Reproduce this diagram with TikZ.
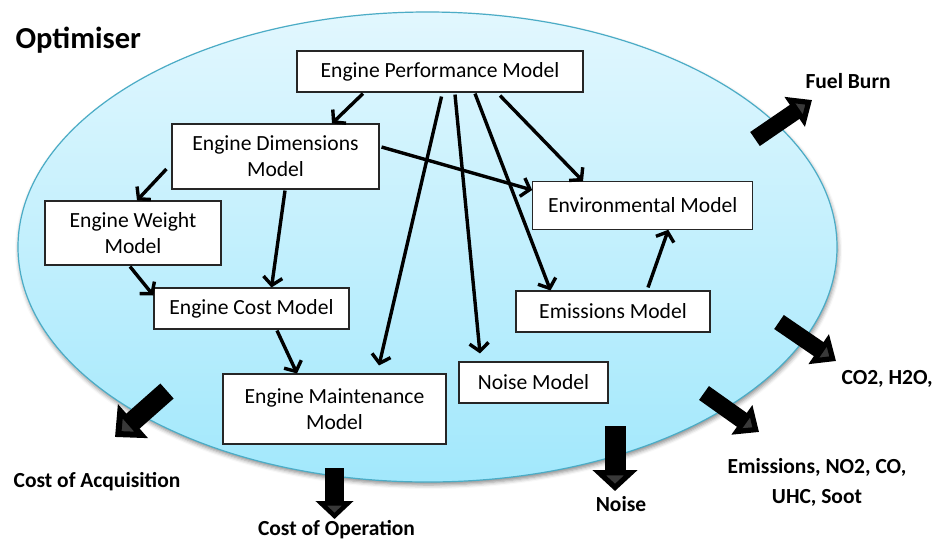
\documentclass[tikz,border=0pt]{standalone}
\usepackage{fontspec}
\setmainfont{Carlito}
\usetikzlibrary{arrows.meta,shadows.blur}

\definecolor{skytop}{HTML}{E2F7FE}
\definecolor{skybottom}{HTML}{A2E8FC}
\definecolor{skyedge}{HTML}{4BACC6}

\begin{document}
\begin{tikzpicture}[x=1pt, y=-1pt,
      link/.style={-{Straight Barb[length=8pt,width=19pt]}, line width=3.4pt},
      output/.style={-{Triangle[length=21pt,width=35pt]}, line width=17pt},
      model/.style={draw=black!85, line width=1.1pt, fill=white, align=center,
                    font=\fontsize{21.6}{26}\selectfont, inner sep=0pt}]
    \tikzstyle{result} = [font=\bfseries\fontsize{21.5}{29.5}\selectfont, align=center]
    \useasboundingbox (0,0) rectangle (933,542);

    % optimiser region
    \path [top color=skytop, bottom color=skybottom, draw=skyedge, line width=1.2pt,
           blur shadow={shadow xshift=1pt, shadow yshift=-3pt, shadow blur radius=4pt, shadow opacity=45}]
      (427.5,247) ellipse [x radius=409.5pt, y radius=235pt];
    \node [font=\bfseries\fontsize{30.5}{33}\selectfont, anchor=base west] (optimiser) at (12,48.3) {Optimiser};

    % models
    \node [model, minimum width=286pt, minimum height=41pt] (perf) at (440,71.5) {Engine Performance Model};
    \node [model, minimum width=207pt, minimum height=65pt] (dim) at (275.5,156.5) {Engine Dimensions\\Model};
    \node [model, minimum width=176pt, minimum height=64pt] (weight) at (133,233) {Engine Weight\\Model};
    \node [model, minimum width=195pt, minimum height=41pt] (cost) at (251.5,308.5) {Engine Cost Model};
    \node [model, minimum width=223pt, minimum height=70pt] (maint) at (334.5,409) {Engine Maintenance\\Model};
    \node [model, minimum width=149pt, minimum height=41pt] (noise) at (533.5,382.5) {Noise Model};
    \node [model, minimum width=194pt, minimum height=41pt] (emis) at (613,311.5) {Emissions Model};
    \node [model, minimum width=220pt, minimum height=47.5pt] (env) at (642.7,205.5) {Environmental Model};

    % links between models
    \draw [link] ([xshift=-77pt,yshift=-1pt]perf.south) -- ([xshift=56.5pt]dim.north);
    \draw [link] ([xshift=-5pt,yshift=-12.5pt]dim.west) -- ([xshift=4pt]weight.north);
    \draw [link] ([xshift=9.5pt,yshift=-1pt]dim.south) -- ([xshift=20pt]cost.north);
    \draw [link] ([xshift=-3pt,yshift=-1pt]weight.south) -- ([yshift=13pt]cost.west);
    \draw [link] ([xshift=25.5pt,yshift=-1pt]cost.south) -- ([xshift=-37.5pt]maint.north);
    \draw [link] ([xshift=1.5pt,yshift=-4pt]perf.south) -- ([xshift=44.5pt,yshift=8pt]maint.north);
    \draw [link] ([xshift=15pt,yshift=-2pt]perf.south) -- ([xshift=-53.5pt,yshift=8pt]noise.north);
    \draw [link] ([xshift=35pt,yshift=-1pt]perf.south) -- ([xshift=-62.5pt]emis.north);
    \draw [link] ([xshift=60pt,yshift=-3pt]perf.south) -- ([xshift=-59.7pt]env.north);
    \draw [link] ([xshift=2pt,yshift=9.5pt]dim.east) -- ([yshift=15.5pt]env.west);
    \draw [link] ([xshift=35pt,yshift=3pt]emis.north) -- ([xshift=25.6pt]env.south);

    % outputs of the optimiser
    \coordinate (fueltail) at (755,139);  \coordinate (fueltip) at (812,100);
    \coordinate (co2tail) at (779,322);   \coordinate (co2tip) at (836,361);
    \coordinate (emtail) at (704,393);    \coordinate (emtip) at (759,432);
    \coordinate (acqtail) at (167,391);   \coordinate (acqtip) at (115,437);
    \coordinate (noisetail) at (615,426); \coordinate (noisetip) at (615,491);
    \coordinate (optail) at (334.5,468);  \coordinate (optip) at (334.5,519);

    \draw [output] (fueltail) -- (fueltip);
    \draw [output] (co2tail) -- (co2tip);
    \draw [output] (emtail) -- (emtip);
    \draw [output, line width=20pt, -{Triangle[length=24pt,width=44pt]}] (acqtail) -- (acqtip);
    \draw [output, line width=21pt, -{Triangle[length=21pt,width=44pt]}] (noisetail) -- (noisetip);
    \draw [output, line width=19pt, -{Triangle[length=18pt,width=37pt]}] (optail) -- (optip);

    \node [result, anchor=base west] (fuel) at (802,88.3) {Fuel Burn};
    \node [result, anchor=base west] (co2) at (838,384) {CO2, H2O,};
    \node [result, anchor=base] (emissions) at (817,503.3) {Emissions, NO2, CO,\\UHC, Soot};
    \node [result, anchor=base] (noiseout) at (621,511) {Noise};
    \node [result, anchor=base] (costop) at (336.5,535.5) {Cost of Operation};
    \node [result, anchor=base] (costacq) at (97,487) {Cost of Acquisition};
\end{tikzpicture}
\end{document}
